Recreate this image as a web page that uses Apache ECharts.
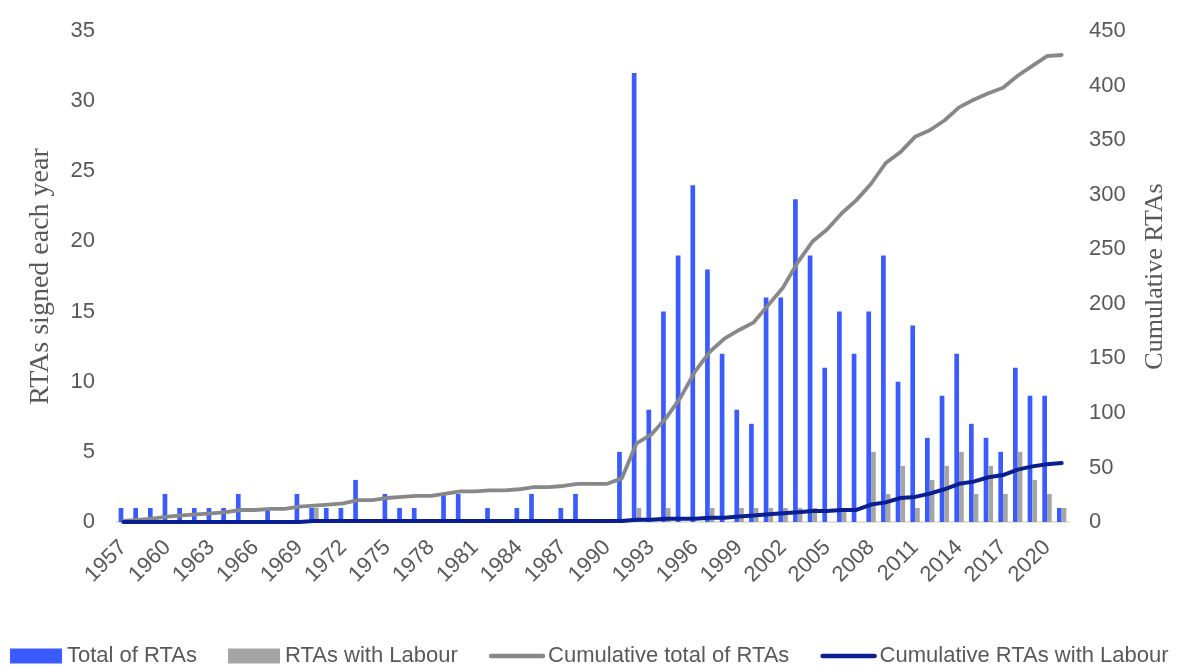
<!DOCTYPE html>
<html>
<head>
<meta charset="utf-8">
<title>RTAs signed each year</title>
<script src="https://cdn.jsdelivr.net/npm/echarts@6/dist/echarts.min.js"></script>
<style>
  html, body { margin: 0; padding: 0; background: #fff; }
  #chart { width: 1200px; height: 667px; }
</style>
</head>
<body>
<div id="chart"></div>
<script>
// 年份 1957 - 2021
const years = ['1957','1958','1959','1960','1961','1962','1963','1964','1965','1966',
  '1967','1968','1969','1970','1971','1972','1973','1974','1975','1976',
  '1977','1978','1979','1980','1981','1982','1983','1984','1985','1986',
  '1987','1988','1989','1990','1991','1992','1993','1994','1995','1996',
  '1997','1998','1999','2000','2001','2002','2003','2004','2005','2006',
  '2007','2008','2009','2010','2011','2012','2013','2014','2015','2016',
  '2017','2018','2019','2020','2021']

// 每年签署的 RTA 数量
const totalRTAs = [1,1,1,2,1,1,1,1,2,0,
  1,0,2,1,1,1,3,0,2,1,
  1,0,2,2,0,1,0,1,2,0,
  1,2,0,0,5,32,8,15,19,24,
  18,12,8,7,16,16,23,19,11,15,
  12,15,19,10,14,6,9,12,7,6,
  5,11,9,9,1]

// 含劳工条款的 RTA
const labourRTAs = [0,0,0,0,0,0,0,0,0,0,
  0,0,0,1,0,0,0,0,0,0,
  0,0,0,0,0,0,0,0,0,0,
  0,0,0,0,0,1,0,1,0,0,
  1,0,1,1,1,1,1,1,0,1,
  0,5,2,4,1,3,4,5,2,4,
  2,5,3,2,1]

// 累计值 (右轴)
const cumulativeTotal = [1,2,3,5,6,7,8,9,11,11,
  12,12,14,15,16,17,20,20,22,23,
  24,24,26,28,28,29,29,30,32,32,
  33,35,35,35,40,72,80,95,114,138,
  156,168,176,183,199,215,238,257,268,283,
  295,310,329,339,353,359,368,380,387,393,
  398,409,418,427,428]

const cumulativeLabour = [0,0,0,0,0,0,0,0,0,0,
  0,0,0,1,1,1,1,1,1,1,
  1,1,1,1,1,1,1,1,1,1,
  1,1,1,1,1,2,2,3,3,3,
  4,4,5,6,7,8,9,10,10,11,
  11,16,18,22,23,26,30,35,37,41,
  43,48,51,53,54]

const leftTicks = { min: 0, max: 35, interval: 5 }
const rightTicks = { min: 0, max: 450, interval: 50 }

const textColor = '#595959'
const sans = 'Liberation Sans, Arial'
const serif = 'Liberation Serif, Times New Roman'
const chart = echarts.init(document.getElementById('chart'))

// 折线图例只显示线段，不要中间的圆点
const hiddenDot = { color: 'transparent', borderColor: 'transparent', borderWidth: 0 }

chart.setOption({
  animation: false,
  backgroundColor: '#fff',
  grid: { left: 116, right: 131, top: 31, bottom: 145 },
  legend: {
    left: 10,
    bottom: 0,
    padding: 0,
    itemWidth: 52,
    itemHeight: 15,
    itemGap: 31,
    textStyle: { fontFamily: sans, fontSize: 22, color: textColor },
    data: [
      { name: 'Total of RTAs', icon: 'rect' },
      { name: 'RTAs with Labour', icon: 'rect' },
      { name: 'Cumulative total of RTAs', itemStyle: hiddenDot, lineStyle: { width: 4.5, color: '#888888' } },
      { name: 'Cumulative RTAs with Labour', itemStyle: hiddenDot, lineStyle: { width: 4.5, color: '#0a1f8f' } }
    ]
  },
  xAxis: {
    type: 'category',
    data: years,
    boundaryGap: true,
    axisTick: { show: false },
    axisLine: { lineStyle: { color: '#d9d9d9', width: 1.5 } },
    axisLabel: {
      interval: 2,
      rotate: 45,
      margin: 22,
      fontFamily: sans,
      fontSize: 22,
      color: textColor
    }
  },
  yAxis: [
    {
      type: 'value',
      ...leftTicks,
      name: 'RTAs signed each year',
      nameLocation: 'middle',
      nameRotate: 90,
      nameGap: 61,
      nameTextStyle: { fontFamily: serif, fontSize: 28, color: textColor },
      splitLine: { show: false },
      axisLine: { show: false },
      axisTick: { show: false },
      axisLabel: { margin: 21, fontFamily: sans, fontSize: 22, color: textColor }
    },
    {
      type: 'value',
      ...rightTicks,
      name: 'Cumulative RTAs',
      nameLocation: 'middle',
      nameRotate: 90,
      nameGap: 73,
      nameTextStyle: { fontFamily: serif, fontSize: 26, color: textColor },
      splitLine: { show: false },
      axisLine: { show: false },
      axisTick: { show: false },
      axisLabel: { margin: 20, fontFamily: sans, fontSize: 22, color: textColor }
    }
  ],
  series: [
    {
      name: 'Total of RTAs',
      type: 'bar',
      data: totalRTAs,
      barWidth: 4.7,
      barGap: '0%',
      itemStyle: { color: '#3a5cff' }
    },
    {
      name: 'RTAs with Labour',
      type: 'bar',
      data: labourRTAs,
      barWidth: 4.7,
      barGap: '0%',
      itemStyle: { color: '#a5a5a5' }
    },
    {
      name: 'Cumulative total of RTAs',
      type: 'line',
      yAxisIndex: 1,
      data: cumulativeTotal,
      symbol: 'none',
      z: 3,
      lineStyle: { color: '#888888', width: 3.8, join: 'round', cap: 'round' },
      itemStyle: { color: '#888888' }
    },
    {
      name: 'Cumulative RTAs with Labour',
      type: 'line',
      yAxisIndex: 1,
      data: cumulativeLabour,
      symbol: 'none',
      z: 4,
      lineStyle: { color: '#0a1f8f', width: 4, join: 'round', cap: 'round' },
      itemStyle: { color: '#0a1f8f' }
    }
  ]
})
</script>
</body>
</html>
